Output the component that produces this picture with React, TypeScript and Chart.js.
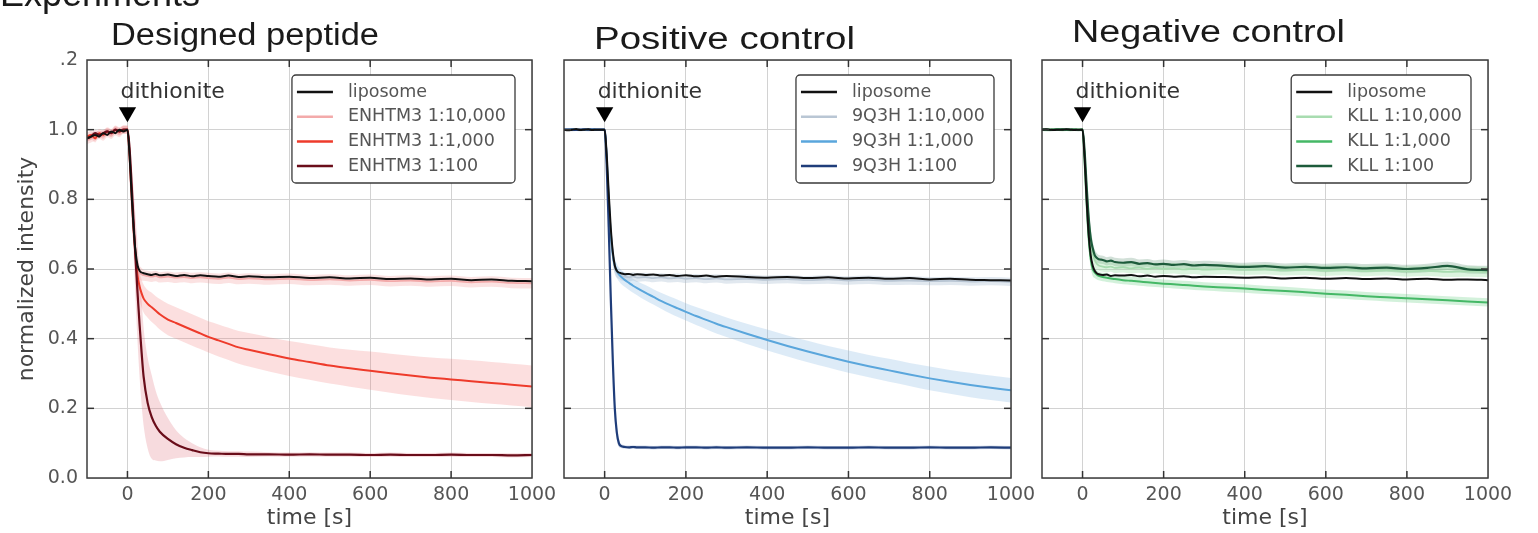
import React, { useEffect, useRef } from "react";
import { Chart, registerables } from "chart.js";

Chart.register(...registerables);

// ---------- data ----------
const times = [
  -100, -90, -80, -70, -60, -50, -40, -30, -20, -10,
  0,
  5, 10, 15, 20, 25, 30, 35, 40,
  50, 60, 70, 80,
  100, 120, 140, 160, 180, 200,
  225, 250, 275, 300,
  350, 400, 450, 500, 550, 600, 650, 700, 750, 800, 850, 900, 950, 1000,
];

const xTickValues = [0, 200, 400, 600, 800, 1000];
const yTickValues = [0, 0.2, 0.4, 0.6, 0.8, 1.0, 1.2];
const yTickLabels = ["0.0", "0.2", "0.4", "0.6", "0.8", "1.0", ".2"];
const markerX = [0];
const markerY = [1.05];
const markerText = "dithionite";

// Panel 1: Designed peptide
const p1Labels = ["liposome", "ENHTM3 1:10,000", "ENHTM3 1:1,000", "ENHTM3 1:100"];
const p1Liposome = [
  0.975, 0.98, 0.985, 0.98, 0.99, 0.985, 0.995, 0.99, 1.0, 0.995,
  1.0,
  0.93, 0.82, 0.72, 0.65, 0.61, 0.595, 0.59, 0.588,
  0.585, 0.583, 0.586, 0.582,
  0.584, 0.58, 0.583, 0.579, 0.582, 0.58,
  0.578, 0.581, 0.577, 0.579,
  0.576, 0.578, 0.574, 0.576, 0.573, 0.575, 0.571, 0.573, 0.57, 0.572, 0.568, 0.57, 0.566, 0.565,
];
const p1Low = [
  0.97, 0.975, 0.98, 0.985, 0.98, 0.99, 0.985, 0.995, 0.99, 1.0,
  1.0,
  0.92, 0.8, 0.7, 0.64, 0.605, 0.59, 0.585, 0.582,
  0.58, 0.578, 0.58, 0.576,
  0.578, 0.575, 0.577, 0.574, 0.576, 0.574,
  0.572, 0.575, 0.571, 0.573,
  0.57, 0.572, 0.568, 0.57, 0.567, 0.569, 0.565, 0.567, 0.564, 0.566, 0.562, 0.564, 0.56, 0.559,
];
const p1LowSd = [
  0.012, 0.012, 0.012, 0.012, 0.012, 0.012, 0.012, 0.012, 0.012, 0.012,
  0.012,
  0.02, 0.03, 0.03, 0.03, 0.025, 0.02, 0.018, 0.016,
  0.015, 0.015, 0.015, 0.015,
  0.015, 0.015, 0.015, 0.015, 0.015, 0.015,
  0.015, 0.015, 0.015, 0.015,
  0.015, 0.015, 0.015, 0.015, 0.015, 0.015, 0.015, 0.015, 0.015, 0.015, 0.015, 0.015, 0.015, 0.015,
];
const p1Mid = [
  0.98, 0.985, 0.975, 0.99, 0.985, 0.995, 0.99, 1.0, 0.995, 1.0,
  1.0,
  0.93, 0.82, 0.72, 0.64, 0.58, 0.55, 0.53, 0.515,
  0.5, 0.49, 0.48, 0.47,
  0.455, 0.445, 0.435, 0.425, 0.415, 0.405,
  0.395, 0.385, 0.375, 0.368,
  0.355, 0.343, 0.333, 0.323, 0.315, 0.308, 0.301, 0.294, 0.288, 0.283, 0.278, 0.273, 0.268, 0.263,
];
const p1MidSd = [
  0.012, 0.012, 0.012, 0.012, 0.012, 0.012, 0.012, 0.012, 0.012, 0.012,
  0.012,
  0.02, 0.03, 0.04, 0.04, 0.04, 0.04, 0.04, 0.04,
  0.04, 0.042, 0.042, 0.044,
  0.045, 0.045, 0.045, 0.045, 0.045, 0.045,
  0.046, 0.046, 0.047, 0.048,
  0.049, 0.05, 0.051, 0.052, 0.053, 0.055, 0.056, 0.057, 0.058, 0.059, 0.06, 0.06, 0.06, 0.06,
];
const p1High = [
  0.975, 0.98, 0.99, 0.985, 0.99, 0.995, 0.99, 1.0, 0.995, 1.0,
  1.0,
  0.95, 0.85, 0.74, 0.63, 0.53, 0.44, 0.36, 0.29,
  0.215, 0.175, 0.15, 0.133,
  0.112, 0.097, 0.087, 0.08, 0.074, 0.071,
  0.07, 0.069, 0.069, 0.068,
  0.068, 0.067, 0.068, 0.067, 0.067, 0.066, 0.067, 0.066, 0.066, 0.067, 0.066, 0.066, 0.065, 0.066,
];
const p1HighSd = [
  0.01, 0.01, 0.01, 0.01, 0.01, 0.01, 0.01, 0.01, 0.01, 0.01,
  0.01,
  0.03, 0.06, 0.09, 0.12, 0.14, 0.15, 0.15, 0.14,
  0.13, 0.12, 0.1, 0.085,
  0.06, 0.04, 0.028, 0.02, 0.014, 0.01,
  0.008, 0.008, 0.008, 0.008,
  0.006, 0.006, 0.006, 0.006, 0.006, 0.006, 0.006, 0.006, 0.006, 0.006, 0.006, 0.006, 0.006, 0.006,
];

// Panel 2: Positive control
const p2Labels = ["liposome", "9Q3H 1:10,000", "9Q3H 1:1,000", "9Q3H 1:100"];
const p2Liposome = [
  1.0, 0.998, 1.0, 1.002, 0.999, 1.0, 1.001, 0.999, 1.0, 1.0,
  1.0,
  0.93, 0.82, 0.72, 0.65, 0.61, 0.595, 0.59, 0.588,
  0.585, 0.586, 0.583, 0.585,
  0.583, 0.584, 0.581, 0.583, 0.58, 0.582,
  0.579, 0.581, 0.578, 0.58,
  0.577, 0.575, 0.577, 0.574, 0.576, 0.573, 0.575, 0.572, 0.574, 0.57, 0.572, 0.569, 0.568, 0.567,
];
const p2Low = [
  1.0, 1.0, 0.999, 1.0, 1.001, 1.0, 0.999, 1.0, 1.0, 1.0,
  1.0,
  0.92, 0.81, 0.71, 0.645, 0.605, 0.59, 0.584, 0.58,
  0.578, 0.576, 0.579, 0.575,
  0.577, 0.574, 0.576, 0.573, 0.575, 0.572,
  0.574, 0.571, 0.573, 0.57,
  0.572, 0.569, 0.571, 0.568, 0.57, 0.567, 0.569, 0.566, 0.567, 0.565, 0.566, 0.564, 0.565, 0.563,
];
const p2LowSd = [
  0.004, 0.004, 0.004, 0.004, 0.004, 0.004, 0.004, 0.004, 0.004, 0.004,
  0.004,
  0.02, 0.03, 0.03, 0.03, 0.02, 0.015, 0.012, 0.012,
  0.012, 0.012, 0.012, 0.012,
  0.012, 0.012, 0.012, 0.012, 0.012, 0.012,
  0.012, 0.012, 0.012, 0.012,
  0.012, 0.012, 0.012, 0.012, 0.012, 0.012, 0.012, 0.012, 0.012, 0.012, 0.012, 0.012, 0.012, 0.012,
];
const p2Mid = [
  1.0, 1.0, 1.001, 1.0, 0.999, 1.0, 1.0, 1.001, 1.0, 1.0,
  1.0,
  0.92, 0.8, 0.7, 0.64, 0.61, 0.595, 0.585, 0.578,
  0.568, 0.56, 0.552, 0.545,
  0.532, 0.52, 0.508, 0.497, 0.487, 0.477,
  0.465, 0.454, 0.443, 0.433,
  0.414, 0.396, 0.379, 0.363, 0.348, 0.334, 0.321, 0.309, 0.297, 0.286, 0.276, 0.267, 0.259, 0.252,
];
const p2MidSd = [
  0.004, 0.004, 0.004, 0.004, 0.004, 0.004, 0.004, 0.004, 0.004, 0.004,
  0.004,
  0.015, 0.02, 0.02, 0.02, 0.02, 0.02, 0.02, 0.02,
  0.02, 0.02, 0.02, 0.02,
  0.022, 0.022, 0.023, 0.024, 0.025, 0.025,
  0.026, 0.027, 0.028, 0.028,
  0.029, 0.03, 0.03, 0.031, 0.031, 0.032, 0.032, 0.033, 0.033, 0.034, 0.034, 0.035, 0.035, 0.035,
];
const p2High = [
  1.0, 1.0, 1.0, 0.999, 1.0, 1.001, 1.0, 1.0, 1.0, 1.0,
  1.0,
  0.9, 0.72, 0.52, 0.34, 0.2, 0.13, 0.1, 0.092,
  0.089, 0.088, 0.089, 0.088,
  0.088, 0.087, 0.088, 0.088, 0.087, 0.088,
  0.088, 0.087, 0.088, 0.087,
  0.088, 0.087, 0.087, 0.088, 0.087, 0.087, 0.088, 0.087, 0.087, 0.088, 0.087, 0.087, 0.088, 0.087,
];
const p2HighSd = [
  0.003, 0.003, 0.003, 0.003, 0.003, 0.003, 0.003, 0.003, 0.003, 0.003,
  0.003,
  0.03, 0.04, 0.04, 0.04, 0.03, 0.02, 0.01, 0.006,
  0.005, 0.005, 0.005, 0.005,
  0.005, 0.005, 0.005, 0.005, 0.005, 0.005,
  0.005, 0.005, 0.005, 0.005,
  0.005, 0.005, 0.005, 0.005, 0.005, 0.005, 0.005, 0.005, 0.005, 0.005, 0.005, 0.005, 0.005, 0.005,
];

// Panel 3: Negative control
const p3Labels = ["liposome", "KLL 1:10,000", "KLL 1:1,000", "KLL 1:100"];
const p3Liposome = [
  1.0, 1.001, 1.0, 0.999, 1.0, 1.0, 1.001, 1.0, 0.999, 1.0,
  1.0,
  0.92, 0.8, 0.7, 0.64, 0.61, 0.595, 0.588, 0.585,
  0.583, 0.584, 0.58, 0.582,
  0.581, 0.583, 0.579, 0.581, 0.578, 0.58,
  0.578, 0.579, 0.576, 0.578,
  0.577, 0.575, 0.576, 0.573, 0.575, 0.572, 0.574, 0.571, 0.573, 0.57, 0.572, 0.569, 0.57, 0.568,
];
const p3Low = [
  1.0, 1.0, 1.001, 1.0, 1.0, 0.999, 1.0, 1.0, 1.001, 1.0,
  1.0,
  0.93, 0.83, 0.74, 0.68, 0.645, 0.625, 0.615, 0.61,
  0.607, 0.605, 0.607, 0.603,
  0.605, 0.602, 0.604, 0.6, 0.603, 0.6,
  0.602, 0.599, 0.601, 0.598,
  0.6, 0.598, 0.599, 0.596, 0.598, 0.595, 0.597, 0.594, 0.596, 0.593, 0.595, 0.592, 0.593, 0.591,
];
const p3LowSd = [
  0.004, 0.004, 0.004, 0.004, 0.004, 0.004, 0.004, 0.004, 0.004, 0.004,
  0.004,
  0.02, 0.03, 0.03, 0.03, 0.02, 0.018, 0.016, 0.015,
  0.015, 0.015, 0.015, 0.015,
  0.015, 0.015, 0.015, 0.015, 0.015, 0.015,
  0.015, 0.015, 0.015, 0.015,
  0.015, 0.015, 0.015, 0.015, 0.015, 0.015, 0.015, 0.015, 0.015, 0.015, 0.015, 0.015, 0.015, 0.015,
];
const p3Mid = [
  1.0, 0.999, 1.0, 1.0, 1.001, 1.0, 1.0, 0.999, 1.0, 1.0,
  1.0,
  0.91, 0.79, 0.69, 0.63, 0.6, 0.59, 0.584, 0.58,
  0.577, 0.575, 0.573, 0.571,
  0.568, 0.566, 0.564, 0.562, 0.56, 0.558,
  0.556, 0.554, 0.552, 0.55,
  0.547, 0.544, 0.54, 0.537, 0.533, 0.529, 0.526, 0.522, 0.519, 0.516, 0.513, 0.51, 0.507, 0.504,
];
const p3MidSd = [
  0.004, 0.004, 0.004, 0.004, 0.004, 0.004, 0.004, 0.004, 0.004, 0.004,
  0.004,
  0.02, 0.03, 0.03, 0.025, 0.02, 0.016, 0.014, 0.012,
  0.012, 0.012, 0.012, 0.012,
  0.012, 0.012, 0.012, 0.012, 0.012, 0.012,
  0.012, 0.012, 0.012, 0.012,
  0.012, 0.012, 0.012, 0.012, 0.012, 0.012, 0.012, 0.012, 0.012, 0.012, 0.012, 0.012, 0.012, 0.012,
];
const p3High = [
  1.0, 1.0, 0.999, 1.0, 1.0, 1.001, 1.0, 1.0, 1.0, 0.999,
  1.0,
  0.94, 0.84, 0.75, 0.69, 0.66, 0.64, 0.632, 0.628,
  0.626, 0.622, 0.624, 0.62,
  0.618, 0.62, 0.615, 0.617, 0.613, 0.615,
  0.612, 0.614, 0.61, 0.612,
  0.609, 0.606, 0.608, 0.604, 0.606, 0.603, 0.605, 0.602, 0.604, 0.6, 0.603, 0.609, 0.599, 0.597,
];
const p3HighSd = [
  0.004, 0.004, 0.004, 0.004, 0.004, 0.004, 0.004, 0.004, 0.004, 0.004,
  0.004,
  0.02, 0.03, 0.03, 0.03, 0.02, 0.016, 0.014, 0.012,
  0.012, 0.012, 0.012, 0.012,
  0.012, 0.012, 0.012, 0.012, 0.012, 0.012,
  0.012, 0.012, 0.012, 0.012,
  0.012, 0.012, 0.012, 0.012, 0.012, 0.012, 0.012, 0.012, 0.012, 0.012, 0.012, 0.012, 0.012, 0.012,
];

// ---------- styling / layout ----------
const FONT = '"DejaVu Sans", Verdana, sans-serif';
const TITLE_FONT = '"Liberation Sans", Arial, Helvetica, sans-serif';
const H = 533;

type Panel = {
  title: string;
  titleX: number;
  titleBaseline: number;
  titleWidth: number;
  canvasLeft: number;
  canvasWidth: number;
  yWidth: number;
  padRight: number;
  showY: boolean;
  labels: string[];
  series: number[][];
  sds: (number[] | null)[];
  colors: string[];
  widths: number[];
  bands: string[];
  heading?: boolean;
};

const panels: Panel[] = [
  {
    title: "Designed peptide",
    titleX: 111,
    titleBaseline: 45,
    titleWidth: 268,
    canvasLeft: 0,
    canvasWidth: 565,
    yWidth: 87,
    padRight: 33,
    showY: true,
    labels: p1Labels,
    series: [p1Liposome, p1Low, p1Mid, p1High],
    sds: [null, p1LowSd, p1MidSd, p1HighSd],
    colors: ["#111111", "#f3aaaa", "#ee3b2b", "#6a0d1a"],
    widths: [2, 1.8, 2, 2.2],
    bands: ["", "rgba(240,150,150,0.28)", "rgba(240,110,110,0.22)", "rgba(225,110,125,0.25)"],
    heading: true,
  },
  {
    title: "Positive control",
    titleX: 49,
    titleBaseline: 49,
    titleWidth: 261,
    canvasLeft: 545,
    canvasWidth: 500,
    yWidth: 19,
    padRight: 34,
    showY: false,
    labels: p2Labels,
    series: [p2Liposome, p2Low, p2Mid, p2High],
    sds: [null, p2LowSd, p2MidSd, p2HighSd],
    colors: ["#111111", "#b9c6d4", "#5aa6dc", "#1f3d7a"],
    widths: [2, 1.8, 2, 2.2],
    bands: ["", "rgba(170,190,210,0.35)", "rgba(120,175,225,0.25)", "rgba(40,80,150,0.2)"],
  },
  {
    title: "Negative control",
    titleX: 47,
    titleBaseline: 42,
    titleWidth: 273,
    canvasLeft: 1025,
    canvasWidth: 513,
    yWidth: 17,
    padRight: 50,
    showY: false,
    labels: p3Labels,
    series: [p3Liposome, p3Low, p3Mid, p3High],
    sds: [null, p3LowSd, p3MidSd, p3HighSd],
    colors: ["#111111", "#a8dcb0", "#45b866", "#1d5b3b"],
    widths: [2, 1.8, 2, 2.2],
    bands: ["", "rgba(140,220,150,0.3)", "rgba(80,200,110,0.25)", "rgba(30,100,60,0.2)"],
  },
];

function makeDecor(p: Panel) {
  return {
    id: "decor",
    afterDraw(chart: any) {
      const { ctx, chartArea: a, scales } = chart;
      const xs = scales.x;
      const ys = scales.y;
      ctx.save();

      // frame
      ctx.strokeStyle = "#3c3c3c";
      ctx.lineWidth = 1.5;
      ctx.strokeRect(a.left, a.top, a.right - a.left, a.bottom - a.top);

      // inward ticks on all sides
      ctx.strokeStyle = "#333";
      ctx.lineWidth = 1.5;
      const seg = (x1: number, y1: number, x2: number, y2: number) => {
        ctx.beginPath();
        ctx.moveTo(x1, y1);
        ctx.lineTo(x2, y2);
        ctx.stroke();
      };
      xTickValues.forEach((v) => {
        const px = xs.getPixelForValue(v);
        if (px <= a.left + 1 || px >= a.right - 1) return;
        seg(px, a.bottom, px, a.bottom - 7);
        seg(px, a.top, px, a.top + 7);
      });
      yTickValues.forEach((v) => {
        const py = ys.getPixelForValue(v);
        if (py <= a.top + 1 || py >= a.bottom - 1) return;
        seg(a.left, py, a.left + 7, py);
        seg(a.right, py, a.right - 7, py);
      });

      // dithionite label
      ctx.fillStyle = "#333";
      ctx.font = `22px ${FONT}`;
      ctx.textAlign = "left";
      ctx.textBaseline = "middle";
      ctx.fillText(markerText, xs.getPixelForValue(markerX[0]) - 7, 92);

      // legend
      ctx.font = `17.5px ${FONT}`;
      let maxW = 0;
      p.labels.forEach((l) => {
        maxW = Math.max(maxW, ctx.measureText(l).width);
      });
      const boxW = 56 + maxW + 9;
      const boxH = 108;
      const bx = a.right - 17 - boxW;
      const by = a.top + 15;
      ctx.beginPath();
      ctx.roundRect(bx, by, boxW, boxH, 4);
      ctx.fillStyle = "#ffffff";
      ctx.fill();
      ctx.strokeStyle = "#3a3a3a";
      ctx.lineWidth = 1.3;
      ctx.stroke();
      p.labels.forEach((l, i) => {
        const ry = by + 17 + i * 24.7;
        ctx.strokeStyle = p.colors[i];
        ctx.lineWidth = 2.5;
        seg(bx + 5, ry, bx + 41, ry);
        ctx.fillStyle = "#555";
        ctx.fillText(l, bx + 56, ry);
      });

      // panel title
      ctx.fillStyle = "#1a1a1a";
      ctx.font = `31px ${TITLE_FONT}`;
      ctx.textBaseline = "alphabetic";
      const tw = ctx.measureText(p.title).width;
      ctx.save();
      ctx.translate(p.titleX, p.titleBaseline);
      ctx.scale(p.titleWidth / tw, 1);
      ctx.fillText(p.title, 0, 0);
      ctx.restore();

      if (p.heading) {
        ctx.font = `36px ${TITLE_FONT}`;
        ctx.fillText("Experiments", 0, 6);
      }
      ctx.restore();
    },
  };
}

function buildConfig(p: Panel): any {
  const datasets: any[] = [];
  datasets.push({
    type: "scatter",
    label: "",
    data: markerX.map((x, i) => ({ x, y: markerY[i] })),
    pointStyle: "triangle",
    rotation: 180,
    pointRadius: 10,
    backgroundColor: "#000",
    borderColor: "#000",
    borderWidth: 0,
    order: -1,
    showLine: false,
  });
  p.series.forEach((vals, k) => {
    datasets.push({
      type: "line",
      label: p.labels[k],
      data: times.map((t, i) => ({ x: t, y: vals[i] })),
      borderColor: p.colors[k],
      borderWidth: p.widths[k],
      pointRadius: 0,
      fill: false,
      order: k === 0 ? 0 : 4 - k,
      cubicInterpolationMode: "monotone",
    });
  });
  p.series.forEach((vals, k) => {
    const sd = p.sds[k];
    if (!sd) return;
    datasets.push({
      type: "line",
      label: "",
      data: times.map((t, i) => ({ x: t, y: vals[i] + sd[i] })),
      borderWidth: 0,
      borderColor: "rgba(0,0,0,0)",
      pointRadius: 0,
      fill: false,
      order: 10 + k,
      cubicInterpolationMode: "monotone",
    });
    datasets.push({
      type: "line",
      label: "",
      data: times.map((t, i) => ({ x: t, y: vals[i] - sd[i] })),
      borderWidth: 0,
      borderColor: "rgba(0,0,0,0)",
      backgroundColor: p.bands[k],
      pointRadius: 0,
      fill: "-1",
      order: 10 + k,
      cubicInterpolationMode: "monotone",
    });
  });

  const gridOpts = { color: "#d2d2d2", lineWidth: 1, drawTicks: false };

  return {
    type: "line",
    data: { datasets },
    options: {
      animation: false,
      responsive: false,
      maintainAspectRatio: false,
      events: [],
      layout: { padding: { left: 0, top: 60, right: p.padRight, bottom: 0 } },
      plugins: {
        legend: { display: false },
        tooltip: { enabled: false },
        title: { display: false },
      },
      scales: {
        x: {
          type: "linear",
          min: -100,
          max: 1000,
          afterBuildTicks: (s: any) => {
            s.ticks = xTickValues.map((v) => ({ value: v }));
          },
          afterFit: (s: any) => {
            s.height = 55;
            s.paddingLeft = 0;
            s.paddingRight = 0;
          },
          grid: gridOpts,
          border: { display: false },
          ticks: {
            padding: 6,
            color: "#555",
            font: { family: FONT, size: 19 },
            maxRotation: 0,
            autoSkip: false,
            callback: (v: any) => String(v),
          },
          title: {
            display: true,
            text: "time [s]",
            color: "#444",
            font: { family: FONT, size: 22 },
            padding: { top: 0, bottom: 2 },
          },
        },
        y: {
          type: "linear",
          min: 0,
          max: 1.2,
          afterBuildTicks: (s: any) => {
            s.ticks = yTickValues.map((v) => ({ value: v }));
          },
          afterFit: (s: any) => {
            s.width = p.yWidth;
            s.paddingTop = 0;
            s.paddingBottom = 0;
          },
          grid: gridOpts,
          border: { display: false },
          ticks: {
            display: p.showY,
            padding: 9,
            color: "#555",
            font: { family: FONT, size: 19 },
            autoSkip: false,
            callback: (_v: any, i: number) => yTickLabels[i],
          },
          title: {
            display: p.showY,
            text: "normalized intensity",
            color: "#444",
            font: { family: FONT, size: 22 },
            padding: { top: 14, bottom: 0 },
          },
        },
      },
    },
    plugins: [makeDecor(p)],
  };
}

export default function App() {
  const r0 = useRef<HTMLCanvasElement>(null);
  const r1 = useRef<HTMLCanvasElement>(null);
  const r2 = useRef<HTMLCanvasElement>(null);
  const refs = [r0, r1, r2];

  useEffect(() => {
    document.body.style.margin = "0";
    const charts = panels.map((p, i) => new Chart(refs[i].current as HTMLCanvasElement, buildConfig(p)));
    return () => charts.forEach((c) => c.destroy());
  }, []);

  return (
    <div style={{ position: "relative", width: 1538, height: H, overflow: "hidden", background: "#fff" }}>
      {panels.map((p, i) => (
        <canvas
          key={i}
          ref={refs[i]}
          width={p.canvasWidth}
          height={H}
          style={{ position: "absolute", left: p.canvasLeft, top: 0, width: p.canvasWidth, height: H }}
        />
      ))}
    </div>
  );
}
